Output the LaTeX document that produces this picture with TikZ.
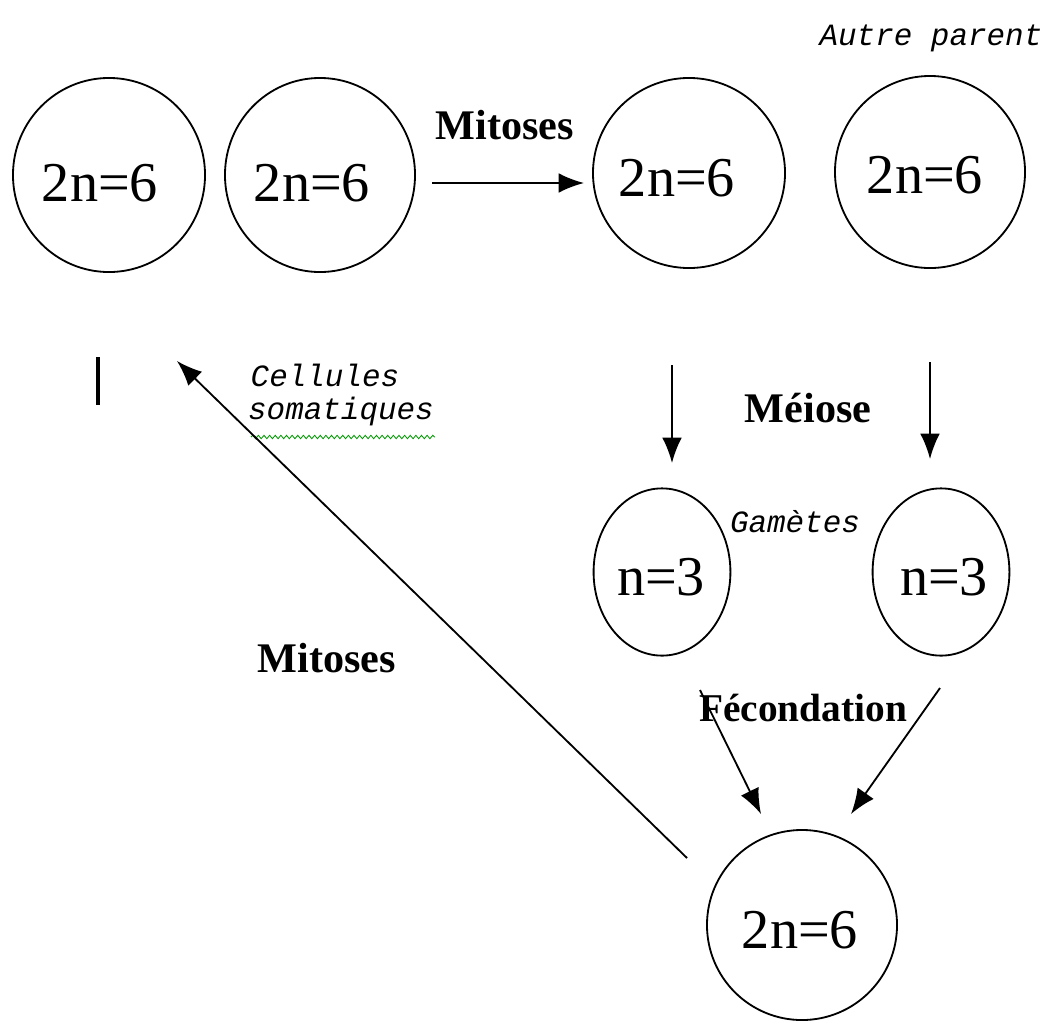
\documentclass[tikz,border=0pt]{standalone}
\usepackage{fontspec}
\setmainfont{Liberation Serif}
\setmonofont{Liberation Mono}
\usetikzlibrary{shapes.geometric,arrows.meta,decorations.pathmorphing}
\begin{document}
\begin{tikzpicture}[x=0.025cm,y=-0.025cm,
  cell/.style={draw, ellipse, line width=1.3pt, inner sep=0pt},
  big/.style={font=\fontsize{40}{44}\selectfont, inner sep=0pt},
  lab/.style={font=\fontsize{30}{34}\selectfont\bfseries, inner sep=0pt},
  itl/.style={font=\fontsize{22}{24}\selectfont\ttfamily\itshape, inner sep=0pt},
  arr/.style={line width=1.3pt, -{Latex[length=18pt,width=14pt]}}]
\useasboundingbox (0,0) rectangle (1045,1033);
\fill[white] (0,0) rectangle (1045,1033);
% cells
\node[cell, minimum width=4.8cm, minimum height=4.85cm] (c1) at (109,175) {};
\node[cell, minimum width=4.75cm, minimum height=4.85cm] (c2) at (320,175) {};
\node[cell, minimum width=4.8cm, minimum height=4.75cm] (c3) at (689,173) {};
\node[cell, minimum width=4.75cm, minimum height=4.8cm] (c4) at (930,172) {};
\node[cell, minimum width=3.42cm, minimum height=4.18cm] (g1) at (662,572) {};
\node[cell, minimum width=3.42cm, minimum height=4.18cm] (g2) at (941,572) {};
\node[cell, minimum width=4.75cm, minimum height=4.75cm] (z) at (802,925) {};
% texts in cells
\node[big] (t1) at (100,183) {2n=6};
\node[big] (t2) at (312,183) {2n=6};
\node[big] (t3) at (677,178) {2n=6};
\node[big] (t4) at (925,175) {2n=6};
\node[big] (t5) at (800,930) {2n=6};
\node[big] (t6) at (661,577) {n=3};
\node[big] (t7) at (944,577) {n=3};
% labels
\node[lab] (m1) at (505,125) {Mitoses};
\node[lab] (m2) at (327,658) {Mitoses};
\node[lab] (me) at (808,408) {Méiose};
\node[lab, font=\fontsize{28}{32}\selectfont\bfseries] (fe) at (803,708) {Fécondation};
\node[itl] (ap) at (931,38) {Autre parent};
\node[itl] (ce) at (325,375) {Cellules};
\node[itl] (so) at (341,411) {somatiques};
\node[itl] (ga) at (795,522) {Gamètes};
% squiggle
\coordinate (sq1) at (251,437);
\coordinate (sq2) at (435,437);
\draw[green!60!black, line width=0.6pt, decorate, decoration={snake, amplitude=1.2pt, segment length=4pt}] (sq1) -- (sq2);
% vertical bar
\coordinate (b1) at (98,357);
\coordinate (b2) at (98,405);
\draw[line width=2.6pt] (b1) -- (b2);
% arrows
\coordinate (a1s) at (432,183);
\coordinate (a1e) at (584,183);
\draw[arr] (a1s) -- (a1e);
\coordinate (a2s) at (672,365);
\coordinate (a2e) at (672,463);
\draw[arr] (a2s) -- (a2e);
\coordinate (a3s) at (930,362);
\coordinate (a3e) at (930,459);
\draw[arr] (a3s) -- (a3e);
\coordinate (a4s) at (700,690);
\coordinate (a4e) at (761,814);
\draw[arr] (a4s) -- (a4e);
\coordinate (a5s) at (940,688);
\coordinate (a5e) at (851,814);
\draw[arr] (a5s) -- (a5e);
\coordinate (a6s) at (687,858);
\coordinate (a6e) at (177,361);
\draw[arr] (a6s) -- (a6e);
\end{tikzpicture}
\end{document}
